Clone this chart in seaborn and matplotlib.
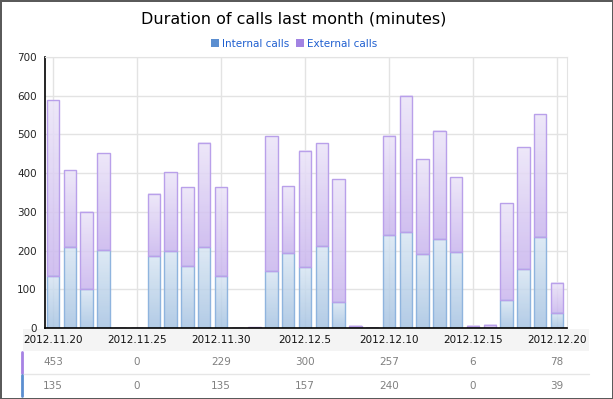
import matplotlib
matplotlib.use("Agg")
import matplotlib.pyplot as plt
import seaborn as sns
import pandas as pd
import numpy as np
from matplotlib.colors import LinearSegmentedColormap
from matplotlib.patches import Patch, Rectangle
from matplotlib.lines import Line2D
import matplotlib.transforms as mtrans

sns.set_style("white")
plt.rcParams['font.family'] = ['DejaVu Sans']

days = pd.date_range("2012-11-20", "2012-12-20", freq="D")
day_labels = [f"{d.year}.{d.month}.{d.day}" for d in days]
internal = [135, 210, 100, 201, 0, 0, 185, 198, 159, 209, 135, 0, 0, 147, 193, 157,
            211, 67, 0, 0, 240, 247, 191, 229, 196, 0, 0, 72, 152, 236, 39]
external = [453, 198, 199, 250, 0, 0, 161, 204, 204, 270, 229, 0, 2, 348, 173, 300,
            266, 317, 6, 1, 257, 353, 245, 279, 193, 6, 9, 250, 315, 316, 78]
table_idx = [0, 5, 10, 15, 20, 25, 30]

df = pd.DataFrame({'Day': day_labels, 'Internal': internal, 'External': external})

fig = plt.figure(figsize=(6.13, 3.99), dpi=100)
fig.patch.set_edgecolor('#5a5a5a')
fig.patch.set_linewidth(2)
ax = fig.add_axes([45 / 613, 1 - 328 / 399, (567 - 45) / 613, (328 - 57) / 399])

sns.barplot(data=df, x='Day', y='Internal', ax=ax, width=0.74, fill=False,
            color='#8fb4de', linewidth=1, zorder=2)
n_int = len(ax.patches)
sns.barplot(data=df, x='Day', y='External', ax=ax, width=0.74, fill=False,
            color='#b9a0ea', linewidth=1, zorder=2, bottom=df['Internal'].values)


def grad_fill(p, c_top, c_bot):
    x, y, w, h = p.get_x(), p.get_y(), p.get_width(), p.get_height()
    if h <= 0:
        return
    cmap = LinearSegmentedColormap.from_list('g', [c_bot, c_top])
    ax.imshow(np.linspace(0, 1, 64).reshape(-1, 1), cmap=cmap, origin='lower',
              extent=[x, x + w, y, y + h], aspect='auto', alpha=0.85,
              zorder=1.5, clip_path=p, clip_on=True)


for i, p in enumerate(ax.patches):
    if i < n_int:
        grad_fill(p, '#d8e6f3', '#a6c3e2')
    else:
        grad_fill(p, '#ebe4f8', '#c9b5ee')

ax.set_xlim(-0.48, 30.6)
ax.set_ylim(0, 700)
ax.set_yticks(range(0, 701, 100))
ax.set_xticks(table_idx)
ax.set_xticklabels([])
ax.tick_params(axis='x', length=0)
ax.tick_params(axis='y', length=4, width=1, color='black', labelsize=7.5, pad=2)
ax.set_xlabel('')
ax.set_ylabel('')
ax.grid(True, color='#e3e3e3', linewidth=1)
ax.set_axisbelow(True)
for s in ['top', 'right']:
    ax.spines[s].set_color('#e3e3e3')
for s in ['left', 'bottom']:
    ax.spines[s].set_color('black')
    ax.spines[s].set_linewidth(1.2)

# title and legend
fig.text(294 / 613, 1 - 19 / 399, "Duration of calls last month (minutes)",
         ha='center', va='center', fontsize=11.5, color='black')
handles = [Patch(facecolor='#5b8ed0', edgecolor='none', label='Internal calls'),
           Patch(facecolor='#a283e2', edgecolor='none', label='External calls')]
leg = fig.legend(handles=handles, loc='center', bbox_to_anchor=(294 / 613, 1 - 44 / 399),
                 ncol=2, frameon=False, fontsize=7.5, handlelength=0.8, handleheight=0.8,
                 handletextpad=0.3, columnspacing=0.6)
for t in leg.get_texts():
    t.set_color('#1f5fd0')

# data table under the chart
def fy(py):
    return 1 - py / 399


fig.add_artist(Rectangle((23 / 613, fy(351)), (589 - 23) / 613, (351 - 329) / 399,
                         transform=fig.transFigure, facecolor='#f4f4f4', edgecolor='none',
                         zorder=-1))
fig.add_artist(Line2D([23 / 613, 589 / 613], [fy(374), fy(374)], transform=fig.transFigure,
                      color='#e6e6e6', linewidth=1, zorder=-1))
fig.add_artist(Line2D([22 / 613, 22 / 613], [fy(352), fy(373)], transform=fig.transFigure,
                      color='#a682e4', linewidth=2))
fig.add_artist(Line2D([22 / 613, 22 / 613], [fy(375), fy(396)], transform=fig.transFigure,
                      color='#5b8ed0', linewidth=2))

tr = mtrans.blended_transform_factory(ax.transData, fig.transFigure)
for i in table_idx:
    ax.text(i, fy(340), day_labels[i], transform=tr, ha='center', va='center',
            fontsize=7.5, color='#111111', clip_on=False)
    ax.text(i, fy(362), str(external[i]), transform=tr, ha='center', va='center',
            fontsize=7.5, color='#808080', clip_on=False)
    ax.text(i, fy(386), str(internal[i]), transform=tr, ha='center', va='center',
            fontsize=7.5, color='#808080', clip_on=False)

fig.savefig("out.png", dpi=100)
